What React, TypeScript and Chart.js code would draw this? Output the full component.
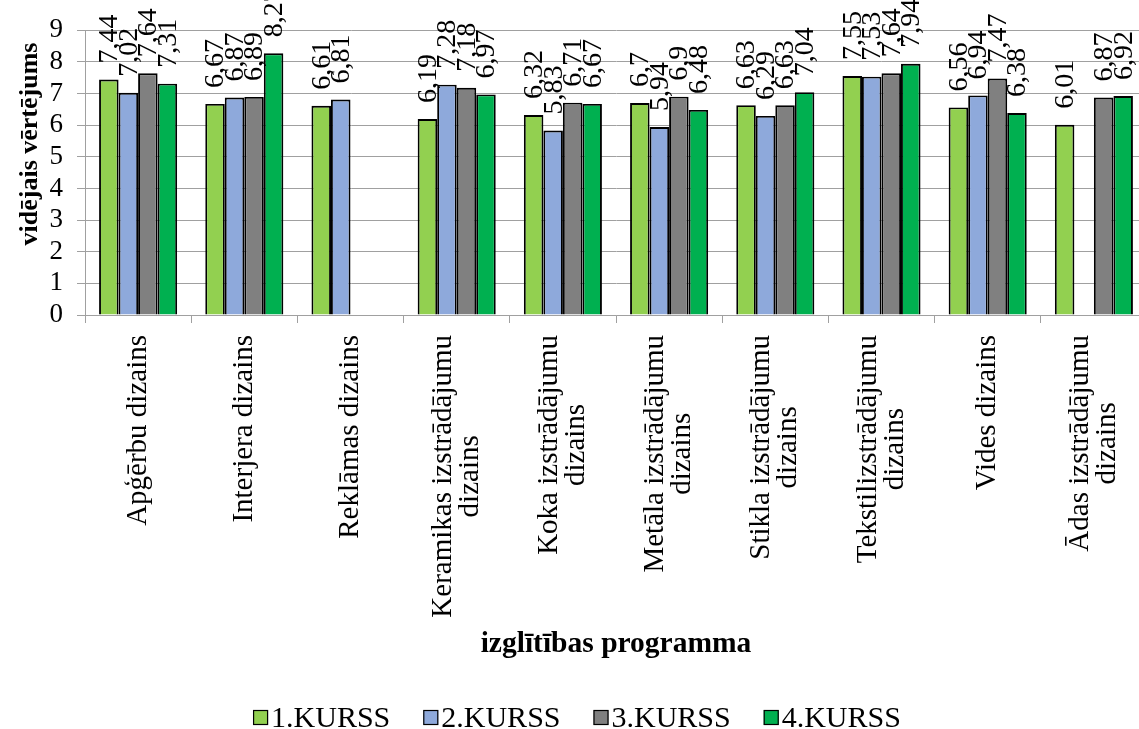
import React, { useEffect, useRef } from "react";
import { Chart, registerables } from "chart.js";

Chart.register(...registerables);

// ---------- data ----------
const categories: string[][] = [
  ["Apģērbu dizains"],
  ["Interjera dizains"],
  ["Reklāmas dizains"],
  ["Keramikas izstrādājumu", "dizains"],
  ["Koka izstrādājumu", "dizains"],
  ["Metāla izstrādājumu", "dizains"],
  ["Stikla izstrādājumu", "dizains"],
  ["Tekstilizstrādājumu", "dizains"],
  ["Vides dizains"],
  ["Ādas izstrādājumu", "dizains"],
];
const seriesNames = ["1.KURSS", "2.KURSS", "3.KURSS", "4.KURSS"];
const kurss1 = [7.44, 6.67, 6.61, 6.19, 6.32, 6.7, 6.63, 7.55, 6.56, 6.01];
const kurss2 = [7.02, 6.87, 6.81, 7.28, 5.83, 5.94, 6.29, 7.53, 6.94, null];
const kurss3 = [7.64, 6.89, null, 7.18, 6.71, 6.9, 6.63, 7.64, 7.47, 6.87];
const kurss4 = [7.31, 8.27, null, 6.97, 6.67, 6.48, 7.04, 7.94, 6.38, 6.92];
const yTickValues = [0, 1, 2, 3, 4, 5, 6, 7, 8, 9];
const yTitle = "vidējais vērtējums";
const xTitle = "izglītības programma";

const seriesColors = ["#92D050", "#8EA9DB", "#808080", "#00B050"];
const FONT = "'Liberation Serif', 'Times New Roman', serif";
const GRID = "#A0A0A0";

const textPlugin = {
  id: "customText",
  afterDraw(chart: any) {
    const ctx: CanvasRenderingContext2D = chart.ctx;
    const xs = chart.scales.x;
    const area = chart.chartArea;
    ctx.save();
    ctx.fillStyle = "#000";

    // data labels
    ctx.font = `28px ${FONT}`;
    chart.data.datasets.forEach((ds: any, di: number) => {
      const meta = chart.getDatasetMeta(di);
      meta.data.forEach((el: any, i: number) => {
        const v = ds.data[i];
        if (v == null) return;
        ctx.save();
        ctx.translate(el.x + 1, el.y - 16);
        ctx.rotate(-Math.PI / 2);
        ctx.textAlign = "left";
        ctx.textBaseline = "middle";
        ctx.fillText(String(v).replace(".", ","), 0, 0);
        ctx.restore();
      });
    });

    // category labels
    ctx.font = `29px ${FONT}`;
    const lineH = 27;
    const top = area.bottom + 20;
    categories.forEach((lines, i) => {
      const cx = xs.getPixelForValue(i);
      const w = Math.max(...lines.map((l) => ctx.measureText(l).width));
      const cy = top + w / 2;
      lines.forEach((line, j) => {
        const lx = cx + (j - (lines.length - 1) / 2) * lineH;
        ctx.save();
        ctx.translate(lx, cy);
        ctx.rotate(-Math.PI / 2);
        ctx.textAlign = "center";
        ctx.textBaseline = "middle";
        ctx.fillText(line, 0, 0);
        ctx.restore();
      });
    });

    // y title
    ctx.font = `bold 26px ${FONT}`;
    ctx.save();
    ctx.translate(30, 144);
    ctx.rotate(-Math.PI / 2);
    ctx.textAlign = "center";
    ctx.textBaseline = "middle";
    ctx.fillText(yTitle, 0, 0);
    ctx.restore();

    // x title
    ctx.font = `bold 29.5px ${FONT}`;
    ctx.textAlign = "center";
    ctx.textBaseline = "middle";
    ctx.fillText(xTitle, (area.left + area.right) / 2, 644);

    // legend
    ctx.font = `30px ${FONT}`;
    const box = 15;
    const gapBoxText = 3;
    const gapItems = 33;
    const widths = chart.data.datasets.map((d: any) => ctx.measureText(d.label).width);
    const total =
      widths.reduce((a: number, b: number) => a + b + box + gapBoxText, 0) +
      gapItems * (widths.length - 1);
    let x = 577 - total / 2;
    chart.data.datasets.forEach((d: any, di: number) => {
      ctx.fillStyle = d.backgroundColor;
      ctx.fillRect(x, 710, box, box);
      ctx.strokeStyle = "#000";
      ctx.lineWidth = 1.2;
      ctx.strokeRect(x + 0.5, 710.5, box - 1, box - 1);
      ctx.fillStyle = "#000";
      ctx.textAlign = "left";
      ctx.textBaseline = "alphabetic";
      ctx.fillText(d.label, x + box + gapBoxText, 727);
      x += box + gapBoxText + widths[di] + gapItems;
    });
    ctx.restore();
  },
};

export default function App() {
  const ref = useRef<HTMLCanvasElement | null>(null);

  useEffect(() => {
    if (!ref.current) return;
    const allSeries = [kurss1, kurss2, kurss3, kurss4];
    const chart = new Chart(ref.current, {
      type: "bar",
      data: {
        labels: categories.map((c) => c.join(" ")),
        datasets: allSeries.map((data, i) => ({
          label: seriesNames[i],
          data,
          backgroundColor: seriesColors[i],
          borderColor: "#000",
          borderWidth: 1.9,
          categoryPercentage: 0.735,
          barPercentage: 1,
        })),
      },
      options: {
        animation: false,
        responsive: false,
        devicePixelRatio: 1,
        layout: { padding: { left: 0, right: 3, top: 29, bottom: 0 } },
        plugins: {
          legend: { display: false },
          tooltip: { enabled: false },
        },
        scales: {
          x: {
            ticks: { display: false },
            grid: {
              offset: true,
              drawOnChartArea: false,
              drawTicks: true,
              tickLength: 8,
              color: GRID,
            },
            border: { color: GRID },
            afterFit: (s: any) => {
              s.height = 414;
            },
          },
          y: {
            min: 0,
            max: 9,
            afterBuildTicks: (s: any) => {
              s.ticks = yTickValues.map((v) => ({ value: v }));
            },
            ticks: {
              font: { family: FONT, size: 27 },
              color: "#000",
              padding: 14,
              autoSkip: false,
              stepSize: 1,
            },
            grid: { color: GRID, tickLength: 8, drawTicks: true },
            border: { color: GRID },
            afterFit: (s: any) => {
              s.width = 85;
            },
          },
        },
      },
      plugins: [textPlugin],
    });
    return () => chart.destroy();
  }, []);

  return (
    <div
      style={{
        position: "fixed",
        left: 0,
        top: 0,
        width: 1139,
        height: 729,
        overflow: "hidden",
        background: "#fff",
      }}
    >
      <canvas ref={ref} width={1150} height={729} style={{ width: 1150, height: 729, display: "block" }} />
    </div>
  );
}
